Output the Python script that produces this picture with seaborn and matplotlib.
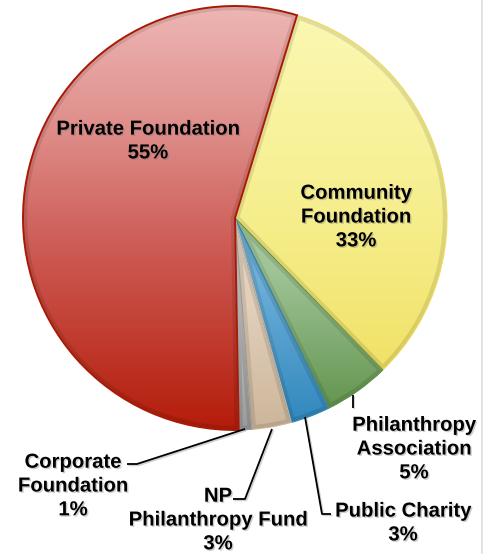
import numpy as np
import matplotlib
matplotlib.use("Agg")
import matplotlib.pyplot as plt
import matplotlib.patheffects as pe
from matplotlib.colors import LinearSegmentedColormap
from matplotlib.patches import Wedge, Rectangle
import seaborn as sns

# Share of organisations by type (percent)
categories = ["Community\nFoundation", "Philanthropy\nAssociation", "Public Charity",
              "NP\nPhilanthropy Fund", "Corporate\nFoundation", "Private Foundation"]
shares = [33, 5, 3, 3, 1, 55]

# vertical gradient stops (top -> bottom of the pie) for each slice
gradients = [
    [(0.0, "#FBF8B4"), (0.5, "#F6EE8C"), (1.0, "#EEDC58")],
    [(0.0, "#C0DCB8"), (0.62, "#A0C498"), (1.0, "#5A8E44")],
    [(0.0, "#96C8EA"), (0.65, "#6CAFD9"), (1.0, "#2E86BC")],
    [(0.0, "#F0E4D6"), (0.7, "#E2D0BC"), (1.0, "#CDB69A")],
    [(0.0, "#DCDCDC"), (0.7, "#C6C6C6"), (1.0, "#9A9A9A")],
    [(0.0, "#EDB6B4"), (0.3, "#DE8C88"), (0.55, "#CE5E58"), (1.0, "#B41C0A")],
]

sns.set_theme(style="white")
plt.rcParams["font.family"] = ["Liberation Sans", "DejaVu Sans"]

W, H = 483, 554
fig = plt.figure(figsize=(W / 100, H / 100), dpi=100)
ax = fig.add_axes([0, 0, 1, 1])

cx, cy, R = 235, H - 218, 212
wedges, _ = ax.pie(shares, startangle=73, counterclock=False,
                   center=(cx, cy), radius=R)
ax.set_xlim(0, W)
ax.set_ylim(0, H)
ax.set_aspect("equal")
ax.axis("off")

ys = np.linspace(0, 1, 512)
for w, stops in zip(wedges, gradients):
    cmap = LinearSegmentedColormap.from_list("slice", stops)
    img = cmap(ys)[:, None, :]
    im = ax.imshow(img, extent=(cx - R, cx + R, cy - R, cy + R), origin="upper",
                   aspect="auto", interpolation="bilinear", zorder=1)
    im.set_clip_path(w)
    # soft bevel along the slice border
    shade = Wedge(w.center, w.r, w.theta1, w.theta2, facecolor="none",
                  edgecolor="black", lw=6, alpha=0.10, zorder=2)
    ax.add_patch(shade)
    shade.set_clip_path(w)
    w.set_facecolor("none")
    w.set_zorder(3)
    w.set_edgecolor(stops[-1][1])
    w.set_linewidth(0.8)

wedges[-1].set_edgecolor("#A81A06")
wedges[-1].set_linewidth(1.4)

shadow = [pe.withSimplePatchShadow(offset=(1, -1), shadow_rgbFace=(0.45, 0.45, 0.45), alpha=0.35)]
line_shadow = [pe.SimpleLineShadow(offset=(1, -1), shadow_color=(0.5, 0.5, 0.5), alpha=0.35), pe.Normal()]

# label block centres (x, y from the top edge)
label_pos = [(356, 217), (414, 449), (403, 523), (218, 520), (73, 486), (148, 141)]
for name, share, (x, y) in zip(categories, shares, label_pos):
    ax.text(x, H - y, f"{name}\n{share}%", ha="center", va="center",
            fontsize=14.6, fontweight="bold", color="black", linespacing=1.32,
            path_effects=shadow, zorder=5)

# leader lines for the small slices
leaders = [
    [(353, 395), (353, 408)],
    [(305, 417), (322, 514), (331, 514)],
    [(272, 429), (245, 499), (233, 499)],
    [(245, 429), (137, 464), (127, 464)],
]
for pts in leaders:
    xs = [p[0] for p in pts]
    yv = [H - p[1] for p in pts]
    ax.plot(xs, yv, color="black", lw=1.3, solid_capstyle="butt",
            path_effects=line_shadow, zorder=4)

ax.add_patch(Rectangle((481, 0), 2, H, color="#E4E4E4", lw=0, zorder=0))

fig.savefig("out.png", dpi=100)
